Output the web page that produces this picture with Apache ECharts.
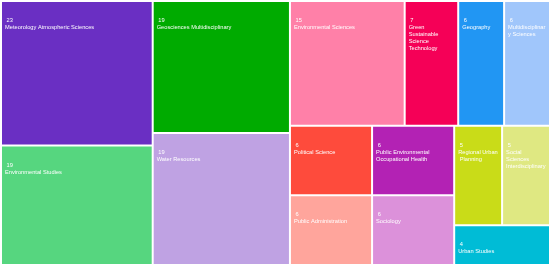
<!DOCTYPE html>
<html><head><meta charset="utf-8">
<script src="https://cdn.jsdelivr.net/npm/echarts@6/dist/echarts.min.js"></script>
<style>html,body{margin:0;padding:0;background:#fff}#c{width:550px;height:267px}</style>
</head><body><div id="c"></div>
<script>
var categories = ["Meteorology Atmospheric Sciences","Environmental Studies","Geosciences Multidisciplinary","Water Resources","Environmental Sciences","Green Sustainable Science Technology","Geography","Multidisciplinary Sciences","Political Science","Public Administration","Public Environmental Occupational Health","Sociology","Regional Urban Planning","Social Sciences Interdisciplinary","Urban Studies"];
var values = [23,19,19,19,15,7,6,6,6,6,6,6,5,5,4];
var colors = ["#6a2fc3","#56d67f","#00ab00","#bfa2e3","#ff80a8","#f50057","#2196f3","#a0c6fb","#fe4b3c","#ffa59c","#b322b4","#dc91da","#c9dc18","#dfe882","#00bcd6"];

var data = categories.map(function(n,i){return {name:n,value:values[i],itemStyle:{color:colors[i]}};});
var chart = echarts.init(document.getElementById('c'));
chart.setOption({
  animation:false,
  series:[{
    type:'treemap',
    left:2, top:2, width:547, height:262,
    roam:false, nodeClick:false, sort:false,
    breadcrumb:{show:false},
    data:data,
    levels:[{itemStyle:{borderWidth:0,gapWidth:2,borderColor:'#fff'}}],
    itemStyle:{borderWidth:0,gapWidth:2,borderColor:'#fff'},
    label:{
      show:true, position:'insideTopLeft',
      formatter:function(p){return ' '+p.value+'\n'+p.name;},
      color:'#fff', fontFamily:'Liberation Sans, Arial, sans-serif', fontSize:5.7, lineHeight:7,
      padding:[15,3,0,3], overflow:'break'
    }
  }]
});
</script></body></html>
